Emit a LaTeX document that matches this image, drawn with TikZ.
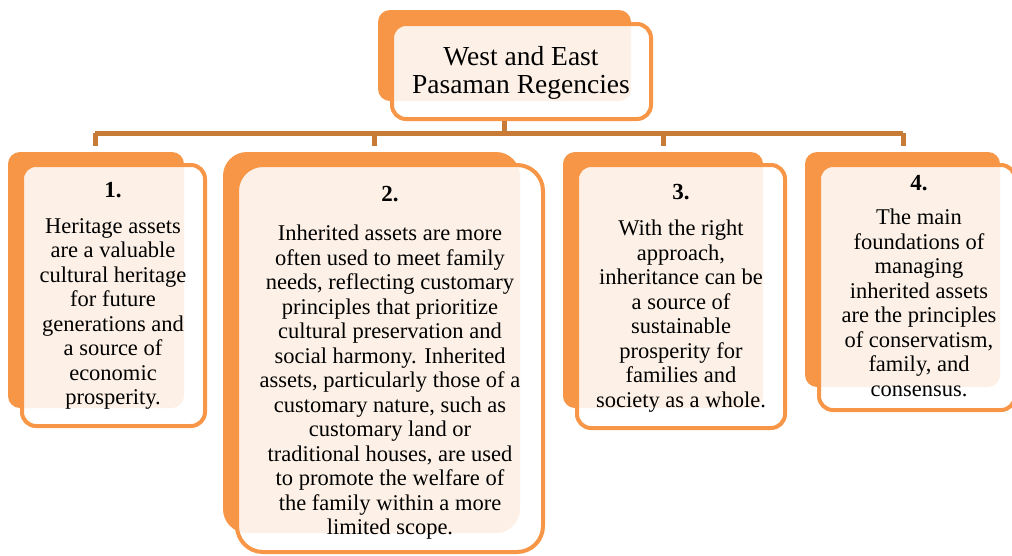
\documentclass[tikz,border=0pt]{standalone}
\usepackage{fontspec}
\setmainfont{Liberation Serif}
\definecolor{org}{HTML}{F79646}
\definecolor{conn}{HTML}{C77B36}
\tikzset{
  backbox/.style={draw=none, fill=org, rounded corners=12pt, inner sep=0pt},
  frontbox/.style={draw=org, line width=4pt, fill=white, fill opacity=0.87, rounded corners=14pt, inner sep=0pt},
  numtxt/.style={inner sep=0pt, font=\fontsize{23}{24.5}\selectfont\bfseries},
  bodytxt/.style={inner sep=0pt, anchor=north, align=center, font=\fontsize{22.5}{24.5}\selectfont},
  link/.style={draw=conn, line width=5pt}
}
\begin{document}
\begin{tikzpicture}[x=1pt,y=-1pt]
\useasboundingbox (0,0) rectangle (1012,555);
% back boxes
\node[backbox, minimum width=253pt, minimum height=91pt] (b0) at (504.5,55.5) {};
\node[backbox, minimum width=176pt, minimum height=256pt] (b1) at (96,280) {};
\node[backbox, minimum width=297pt, minimum height=381pt, rounded corners=24pt] (b2) at (371.5,342.5) {};
\node[backbox, minimum width=200pt, minimum height=256pt] (b3) at (663,280) {};
\node[backbox, minimum width=195pt, minimum height=235pt] (b4) at (902.5,269.5) {};
% front boxes
\node[frontbox, minimum width=259pt, minimum height=95pt] (f0) at (521.5,71.5) {};
\node[frontbox, minimum width=183pt, minimum height=261pt] (f1) at (113.5,295.5) {};
\node[frontbox, minimum width=306pt, minimum height=387pt, rounded corners=26pt] (f2) at (390,358.5) {};
\node[frontbox, minimum width=208pt, minimum height=263pt] (f3) at (681,296.5) {};
\node[frontbox, minimum width=196pt, minimum height=245pt] (f4) at (917,287.5) {};
% connectors
\coordinate (hub) at (504,133);
\coordinate (l1) at (95,133);
\coordinate (l2) at (374,133);
\coordinate (l3) at (663,133);
\coordinate (l4) at (903,133);
\coordinate (e1) at (95,146);
\coordinate (e2) at (374,146);
\coordinate (e3) at (663,146);
\coordinate (e4) at (903,146);
\draw[link] (f0.south -| hub) -- (hub);
\draw[link] (l1) -- (l4);
\draw[link] (l1) -- (e1);
\draw[link] (l2) -- (e2);
\draw[link] (l3) -- (e3);
\draw[link] (l4) -- (e4);
% texts
\node[bodytxt, font=\fontsize{27.5}{28}\selectfont] (t0) at (521,46) {West and East\\Pasaman Regencies};
\node[numtxt] (n1) at (113,190) {1.};
\node[bodytxt] (t1) at (113,218) {Heritage assets\\are a valuable\\cultural heritage\\for future\\generations and\\a source of\\economic\\prosperity.};
\node[numtxt] (n2) at (390,194) {2.};
\node[bodytxt] (t2) at (390,225) {Inherited assets are more\\often used to meet family\\needs, reflecting customary\\principles that prioritize\\cultural preservation and\\social harmony. Inherited\\assets, particularly those of a\\customary nature, such as\\customary land or\\traditional houses, are used\\to promote the welfare of\\the family within a more\\limited scope.};
\node[numtxt] (n3) at (681,192) {3.};
\node[bodytxt] (t3) at (681,220) {With the right\\approach,\\inheritance can be\\a source of\\sustainable\\prosperity for\\families and\\society as a whole.};
\node[numtxt] (n4) at (919,183) {4.};
\node[bodytxt] (t4) at (919,209) {The main\\foundations of\\managing\\inherited assets\\are the principles\\of conservatism,\\family, and\\consensus.};
\end{tikzpicture}
\end{document}
